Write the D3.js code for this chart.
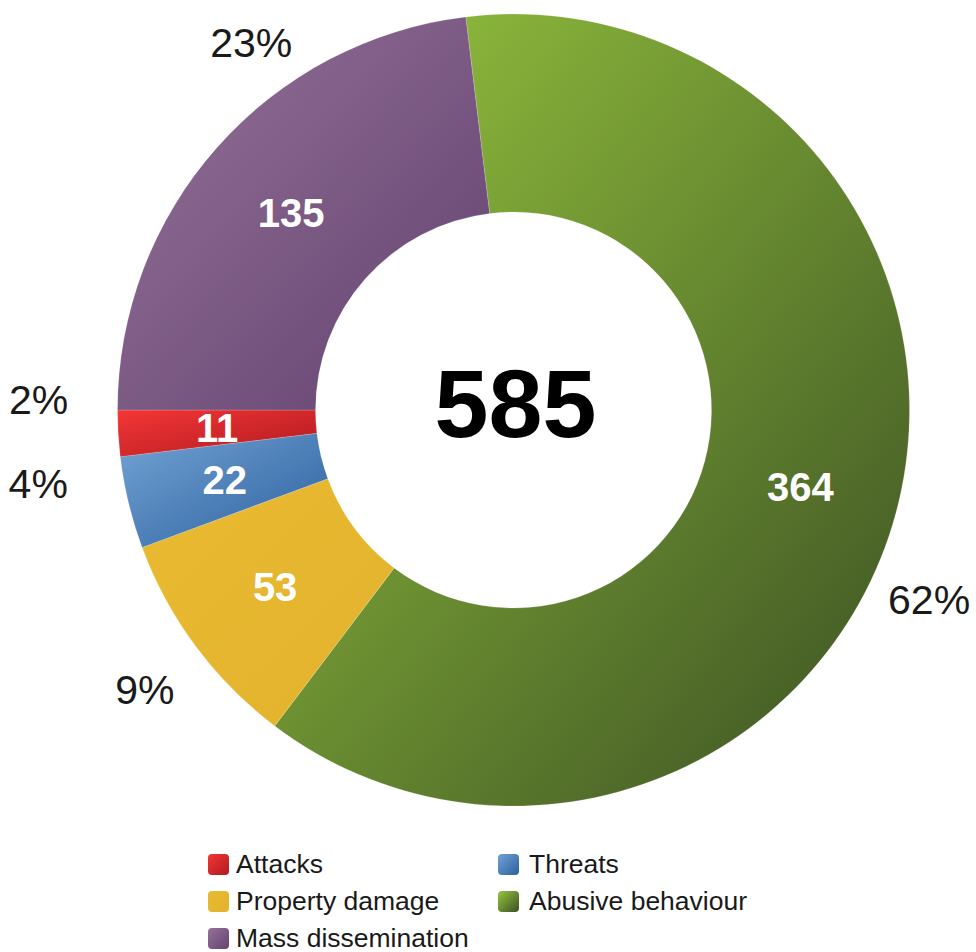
<!DOCTYPE html>
<html>
<head>
<meta charset="utf-8">
<script src="https://cdn.jsdelivr.net/npm/d3@7"></script>
<style>
  body { margin: 0; background: #fff; }
  svg { display: block; font-family: "Liberation Sans", Arial, sans-serif; }
</style>
</head>
<body>
<script>
'use strict';

// chart data
const categories = ["Abusive behaviour", "Property damage", "Threats", "Attacks", "Mass dissemination"];
const values = [364, 53, 22, 11, 135];
const percentLabels = ["62%", "9%", "4%", "2%", "23%"];
const legendOrder = ["Attacks", "Threats", "Property damage", "Abusive behaviour", "Mass dissemination"];
const totalLabel = "585";

// colours (light -> dark) per category
const colours = {
  "Abusive behaviour": ["#97c63e", "#3a4f23"],
  "Property damage": ["#e9ba32", "#e2b22c"],
  "Threats": ["#72a3d4", "#2c5f9e"],
  "Attacks": ["#f43636", "#b01a20"],
  "Mass dissemination": ["#957399", "#62416f"]
};

// outside label nudges (degrees, radius) - the original chart moved these by hand
const labelNudge = [[9.5, 457], [-0.6, 463], [4.7, 481], [4.6, 475], [12.9, 451]];

(function () {
  const width = 976, height = 952;
  const cx = 513.5, cy = 410;
  const outerR = 396, innerR = 198;

  const svg = d3.select('body').append('svg')
    .attr('width', width)
    .attr('height', height);

  const defs = svg.append('defs');
  categories.forEach((c, i) => {
    const g = defs.append('linearGradient')
      .attr('id', 'grad' + i)
      .attr('x1', 0).attr('y1', 0)
      .attr('x2', 1).attr('y2', 1);
    g.append('stop').attr('offset', '0%').attr('stop-color', colours[c][0]);
    g.append('stop').attr('offset', '100%').attr('stop-color', colours[c][1]);
  });

  const total = d3.sum(values);
  // purple/red boundary sits at 9 o'clock
  const purpleAngle = values[4] / total * 2 * Math.PI;
  const start = 1.5 * Math.PI + purpleAngle - 2 * Math.PI;

  const pie = d3.pie()
    .sort(null)
    .startAngle(start)
    .endAngle(start + 2 * Math.PI);

  const arcs = pie(values);
  const arc = d3.arc().innerRadius(innerR).outerRadius(outerR);

  const g = svg.append('g').attr('transform', `translate(${cx},${cy})`);

  g.selectAll('.slice')
    .data(arcs)
    .enter()
    .append('path')
    .attr('class', 'slice')
    .attr('d', arc)
    .attr('fill', (d, i) => `url(#grad${i})`)
    .attr('stroke', '#ffffff')
    .attr('stroke-opacity', 0.35)
    .attr('stroke-width', 0.5);

  // value labels inside the ring
  g.selectAll('.val')
    .data(arcs)
    .enter()
    .append('text')
    .attr('class', 'val')
    .attr('x', d => arc.centroid(d)[0])
    .attr('y', d => arc.centroid(d)[1] + 14)
    .attr('text-anchor', 'middle')
    .style('font-size', '40px')
    .style('font-weight', 'bold')
    .attr('fill', '#ffffff')
    .text(d => d.data);

  // percentage labels outside
  g.selectAll('.pct')
    .data(arcs)
    .enter()
    .append('text')
    .attr('class', 'pct')
    .attr('x', (d, i) => {
      const a = (d.startAngle + d.endAngle) / 2 + labelNudge[i][0] * Math.PI / 180;
      return Math.sin(a) * labelNudge[i][1];
    })
    .attr('y', (d, i) => {
      const a = (d.startAngle + d.endAngle) / 2 + labelNudge[i][0] * Math.PI / 180;
      return -Math.cos(a) * labelNudge[i][1] + 14;
    })
    .attr('text-anchor', 'middle')
    .style('font-size', '41px')
    .attr('fill', '#1a1a1a')
    .text((d, i) => percentLabels[i]);

  // total in the hole
  g.append('text')
    .attr('x', 2)
    .attr('y', 27)
    .attr('text-anchor', 'middle')
    .style('font-size', '97px')
    .style('font-weight', 'bold')
    .attr('fill', '#000000')
    .text(totalLabel);

  // legend, two columns
  const legend = svg.append('g').attr('transform', 'translate(208, 864)');
  const item = legend.selectAll('.leg')
    .data(legendOrder)
    .enter()
    .append('g')
    .attr('class', 'leg')
    .attr('transform', (d, i) => `translate(${(i % 2) * 290}, ${Math.floor(i / 2) * 37})`);

  item.append('rect')
    .attr('x', 0)
    .attr('y', -10)
    .attr('width', 21)
    .attr('height', 21)
    .attr('rx', 4)
    .attr('fill', d => `url(#grad${categories.indexOf(d)})`);

  item.append('text')
    .attr('x', (d, i) => i % 2 ? 31 : 28)
    .attr('y', 9)
    .style('font-size', '26.5px')
    .attr('fill', '#1a1a1a')
    .text(d => d);
})();
</script>
</body>
</html>
